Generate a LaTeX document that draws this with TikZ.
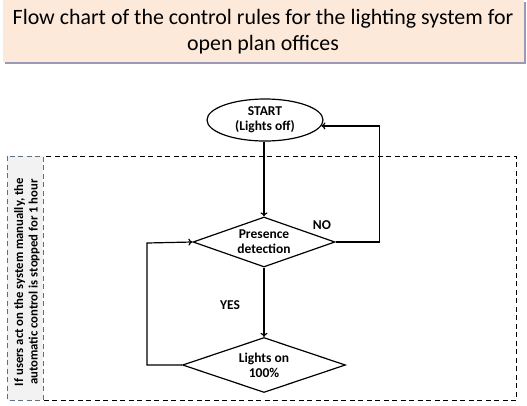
\documentclass[tikz,border=0pt]{standalone}
\usepackage{fontspec}
\setmainfont{Carlito}
\usetikzlibrary{shapes.geometric,arrows.meta}
\definecolor{peach}{HTML}{FDE9D9}
\definecolor{shadowc}{HTML}{9A9AB8}
\definecolor{panelc}{HTML}{F2F2F2}
\definecolor{panelline}{HTML}{5F6F80}
\tikzset{
  lbl/.style={font=\fontsize{13.5}{15}\selectfont\bfseries, align=center},
  flowline/.style={line width=1.2pt, -{To[length=4pt,width=7pt]}},
  dec/.style={diamond, draw, line width=1.2pt, aspect=2.9, inner sep=0pt},
  dashbox/.style={dash pattern=on 5pt off 3.5pt, line width=0.9pt},
}
\begin{document}
\begin{tikzpicture}[x=1pt,y=-1pt]
\useasboundingbox (0,0) rectangle (527,405);
% title
\fill[shadowc] (5,2) rectangle (526,64);
\fill[peach] (3,0) rectangle (524,62);
\node[align=center, font=\fontsize{21.9}{26}\selectfont] (title) at (263,32)
  {Flow chart of the control rules for the lighting system for\\open plan offices};
% outer dashed region
\draw[dashbox] (7,156) rectangle (516,400);
\fill[panelc] (7,156) rectangle (43,400);
\draw[dashbox, panelline] (7,156) rectangle (43,400);
\node[rotate=90, align=center, font=\fontsize{12.7}{14.5}\selectfont\bfseries] (side) at (27,282)
  {If users act on the system manually, the\\automatic control is stopped for 1 hour};
% nodes
\node[ellipse, draw, line width=1.2pt, minimum width=116, minimum height=42, inner sep=0pt, lbl] (start) at (265,120) {START\\(Lights off)};
\node[dec, minimum width=142, minimum height=50, lbl] (pd) at (264,242) {Presence\\detection};
\node[dec, minimum width=163, minimum height=55, lbl] (on) at (264,365) {Lights on\\100\%};
\coordinate (rt) at ([xshift=58pt]start.-6.2);
\coordinate (lt) at (147,243);
% connectors
\draw[flowline] (start.south -| pd.north) -- (pd.north);
\draw[flowline] (pd.south) -- (on.north);
\node[lbl] (yes) at (230,305) {YES};
\draw[flowline] (pd.east) -| (rt) -- (start.-6.2);
\draw[flowline] (on.west) -| (lt) -- (pd.west);
\node[lbl] (no) at (322,225) {NO};
\end{tikzpicture}
\end{document}
